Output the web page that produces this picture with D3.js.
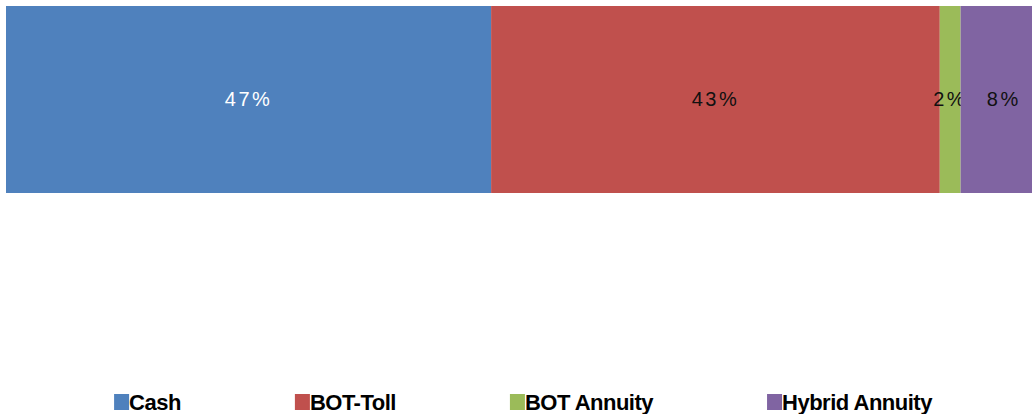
<!doctype html>
<html>
<head>
<meta charset="UTF-8">
<title>stacked share</title>
<script src="https://d3js.org/d3.v7.min.js"></script>
<style>
  body{margin:0;background:#fff;}
  text{font-family:"Liberation Sans",Arial,sans-serif;}
</style>
</head>
<body>
<svg id="chart" width="1032" height="414"></svg>
<script>
// data (share of total, %)
var categories = ["Cash", "BOT-Toll", "BOT Annuity", "Hybrid Annuity"];
var values = [46.6, 43.1, 2.0, 8.3];
var labels = ["47%", "43%", "2%", "8%"];
var colors = ["#4F81BD", "#C0504D", "#9BBB59", "#8064A2"];
var labelColors = ["#ffffff", "#111111", "#111111", "#111111"];

var svg = d3.select("#chart");

var x = d3.scaleLinear().domain([0, 100]).range([6, 1047]);
var y = d3.scaleBand().domain(["all"]).range([6, 193]).padding(0);

// running start of each segment
var starts = [];
var acc = 0;
for (var i = 0; i < values.length; i++) {
    starts.push(acc);
    acc += values[i];
}

var seg = svg.selectAll("g.seg")
    .data(values)
    .enter().append("g").attr("class", "seg");

seg.append("rect")
    .attr("x", function(d, i){ return x(starts[i]); })
    .attr("y", y("all"))
    .attr("width", function(d, i){ return x(starts[i] + d) - x(starts[i]); })
    .attr("height", y.bandwidth())
    .attr("fill", function(d, i){ return colors[i]; });

seg.append("text")
    .attr("x", function(d, i){ return (x(starts[i]) + x(starts[i] + d)) / 2; })
    .attr("y", y("all") + y.bandwidth() / 2 + 6)
    .attr("text-anchor", "middle")
    .attr("font-size", 20)
    .attr("letter-spacing", 2.5)
    .attr("fill", function(d, i){ return labelColors[i]; })
    .text(function(d, i){ return labels[i]; });

// legend, laid out from measured text widths
var legend = svg.append("g");
var items = legend.selectAll("g")
    .data(categories)
    .enter().append("g");

items.append("rect")
    .attr("y", 394)
    .attr("width", 15)
    .attr("height", 16)
    .attr("fill", function(d, i){ return colors[i]; });

items.append("text")
    .attr("x", 15)
    .attr("y", 410)
    .attr("font-size", 22)
    .attr("font-weight", "bold")
    .attr("letter-spacing", -0.5)
    .attr("fill", "#000")
    .text(function(d){ return d; });

var gap = 114;
var widths = [];
items.selectAll("text").each(function(){ widths.push(15 + this.getComputedTextLength()); });
var total = d3.sum(widths) + gap * (widths.length - 1);
var pos = 523 - total / 2;
items.attr("transform", function(d, i){
    var t = "translate(" + pos + ",0)";
    pos += widths[i] + gap;
    return t;
});
</script>
</body>
</html>
